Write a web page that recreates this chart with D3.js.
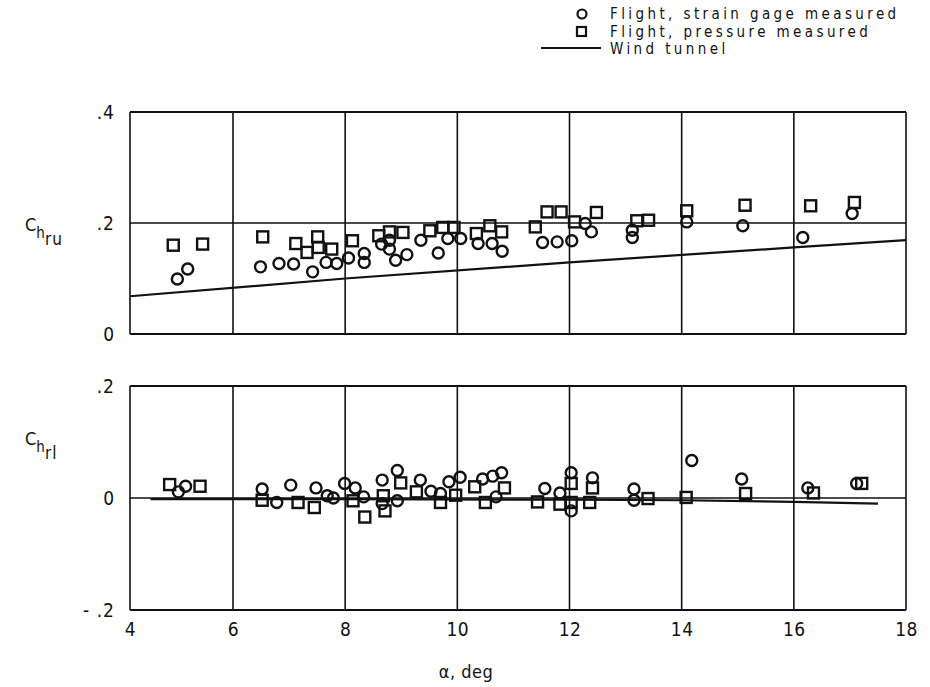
<!DOCTYPE html>
<html>
<head>
<meta charset="utf-8">
<script src="https://cdn.jsdelivr.net/npm/d3@7"></script>
<style>
  body { margin: 0; background: #fff; }
  svg { display: block; }
  text { font-family: "DejaVu Sans Condensed", "DejaVu Sans", sans-serif; fill: #111; }
</style>
</head>
<body>
<div id="drawArea"></div>
<script>
// angle of attack ticks
var alphaTicks = [4, 6, 8, 10, 12, 14, 16, 18];
var ruTicks = [0, 0.2, 0.4];
var rlTicks = [-0.2, 0, 0.2];

// upper rudder hinge moment, [alpha, Ch]
var ruStrain = [
  [4.92, 0.099], [5.12, 0.117], [6.49, 0.121], [6.82, 0.127], [7.08, 0.126], [7.42, 0.112],
  [7.66, 0.129], [7.85, 0.127], [8.06, 0.137], [8.34, 0.145], [8.34, 0.129], [8.65, 0.162],
  [8.79, 0.169], [8.79, 0.153], [8.90, 0.133], [9.10, 0.143], [9.35, 0.169], [9.66, 0.146],
  [9.83, 0.172], [10.06, 0.172], [10.37, 0.163], [10.62, 0.163], [10.80, 0.149], [11.52, 0.165],
  [11.78, 0.166], [12.04, 0.168], [12.28, 0.199], [12.39, 0.184], [13.12, 0.187], [13.12, 0.174],
  [14.09, 0.202], [15.09, 0.195], [16.16, 0.174], [17.04, 0.217]
];
var ruPressure = [
  [4.84, 0.160], [5.41, 0.162], [6.53, 0.175], [7.12, 0.163], [7.32, 0.147], [7.51, 0.175],
  [7.52, 0.156], [7.76, 0.153], [8.13, 0.168], [8.60, 0.177], [8.79, 0.184], [9.03, 0.183],
  [9.51, 0.186], [9.74, 0.192], [9.94, 0.192], [10.34, 0.181], [10.58, 0.195], [10.79, 0.184],
  [11.39, 0.193], [11.60, 0.220], [11.85, 0.220], [12.09, 0.202], [12.48, 0.219], [13.20, 0.204],
  [13.41, 0.205], [14.09, 0.222], [15.13, 0.232], [16.30, 0.231], [17.08, 0.237]
];
var ruTunnel = [[4, 0.068], [8, 0.100], [12, 0.129], [16, 0.156], [18, 0.169]];

// lower rudder hinge moment, [alpha, Ch]
var rlStrain = [
  [4.94, 0.011], [5.08, 0.021], [6.52, 0.016], [6.78, -0.008], [7.03, 0.023], [7.48, 0.018],
  [7.68, 0.004], [7.79, 0.000], [7.99, 0.026], [8.18, 0.018], [8.33, 0.002], [8.66, 0.032],
  [8.66, -0.010], [8.93, 0.049], [8.93, -0.005], [9.34, 0.032], [9.53, 0.012], [9.70, 0.008],
  [9.85, 0.029], [10.05, 0.037], [10.45, 0.034], [10.63, 0.039], [10.79, 0.045], [10.69, 0.002],
  [11.56, 0.017], [11.83, 0.009], [12.03, 0.045], [12.03, -0.023], [12.41, 0.036], [13.15, 0.016],
  [13.15, -0.004], [14.18, 0.067], [15.07, 0.034], [16.25, 0.018], [17.12, 0.026]
];
var rlPressure = [
  [4.77, 0.024], [5.36, 0.021], [6.52, -0.004], [7.16, -0.008], [7.45, -0.017], [8.14, -0.005],
  [8.35, -0.034], [8.71, -0.023], [8.68, 0.004], [8.99, 0.027], [9.27, 0.011], [9.70, -0.008],
  [9.97, 0.005], [10.31, 0.020], [10.50, -0.008], [10.84, 0.018], [11.43, -0.007], [11.83, -0.011],
  [12.03, 0.026], [12.03, -0.008], [12.41, 0.018], [12.36, -0.008], [13.40, -0.001], [14.08, 0.001],
  [15.14, 0.008], [16.35, 0.009], [17.21, 0.026]
];
var rlTunnel = [[4.4, -0.002], [8, -0.002], [12, -0.003], [14, -0.004], [16, -0.007], [17.5, -0.010]];

var svg = d3.select('#drawArea')
    .append('svg')
    .attr('width', 930)
    .attr('height', 687);

// the scanned axis is a little short between 4 and 6
var x = d3.scaleLinear().domain([4, 6, 18]).range([130, 233, 906]);

function tickText (d) {
    if (d == 0) return '0';
    var s = d3.format('.1f')(Math.abs(d)).replace(/^0/, '');
    return d < 0 ? '- ' + s : s;
}

function panel (y, ticks, gridY, strain, pressure, tunnel) {
    var g = svg.append('g');
    var y0 = y.range()[0], y1 = y.range()[1];

    // vertical grid
    g.selectAll('.vgrid')
        .data(alphaTicks)
        .enter()
        .append('line')
        .attr('x1', function (d) { return x(d); })
        .attr('x2', function (d) { return x(d); })
        .attr('y1', y0)
        .attr('y2', y1)
        .attr('stroke', '#111')
        .attr('stroke-width', 1.6);

    // border + horizontal grid
    g.selectAll('.hgrid')
        .data(ticks)
        .enter()
        .append('line')
        .attr('x1', x(4))
        .attr('x2', x(18))
        .attr('y1', function (d) { return y(d); })
        .attr('y2', function (d) { return y(d); })
        .attr('stroke', '#111')
        .attr('stroke-width', function (d) { return d == gridY ? 1.4 : 1.8; });

    // y tick labels
    var ax = g.append('g')
        .attr('transform', 'translate(' + (x(4) - 12) + ',0)')
        .call(d3.axisLeft(y).tickValues(ticks).tickSize(0).tickFormat(tickText));
    ax.select('.domain').remove();
    ax.selectAll('text')
        .style('font-size', '19px')
        .style('letter-spacing', '1px')
        .style('font-family', '"DejaVu Sans Condensed", "DejaVu Sans", sans-serif');

    // wind tunnel
    g.append('path')
        .datum(tunnel)
        .attr('fill', 'none')
        .attr('stroke', '#111')
        .attr('stroke-width', 2.2)
        .attr('d', d3.line()
            .x(function (d) { return x(d[0]); })
            .y(function (d) { return y(d[1]); }));

    g.selectAll('.strain')
        .data(strain)
        .enter()
        .append('circle')
        .attr('cx', function (d) { return x(d[0]); })
        .attr('cy', function (d) { return y(d[1]); })
        .attr('r', 5.5)
        .attr('fill', 'none')
        .attr('stroke', '#111')
        .attr('stroke-width', 2.4);

    g.selectAll('.pressure')
        .data(pressure)
        .enter()
        .append('rect')
        .attr('x', function (d) { return x(d[0]) - 5.5; })
        .attr('y', function (d) { return y(d[1]) - 5.5; })
        .attr('width', 11)
        .attr('height', 11)
        .attr('fill', 'none')
        .attr('stroke', '#111')
        .attr('stroke-width', 2.4);
}

var yRu = d3.scaleLinear().domain([0, 0.4]).range([334, 112]);
var yRl = d3.scaleLinear().domain([-0.2, 0.2]).range([610, 386]);

panel(yRu, ruTicks, 0.2, ruStrain, ruPressure, ruTunnel);
panel(yRl, rlTicks, 0, rlStrain, rlPressure, rlTunnel);

// x tick labels
var xa = svg.append('g')
    .attr('transform', 'translate(0,' + 619 + ')')
    .call(d3.axisBottom(x).tickValues(alphaTicks).tickSize(0).tickFormat(d3.format('d')));
xa.select('.domain').remove();
xa.selectAll('text')
    .style('font-size', '19px')
    .style('letter-spacing', '0.5px')
    .style('font-family', '"DejaVu Sans Condensed", "DejaVu Sans", sans-serif');

svg.append('text')
    .attr('x', 466)
    .attr('y', 678)
    .attr('text-anchor', 'middle')
    .style('font-size', '18px')
    .style('letter-spacing', '0.5px')
    .text('\u03b1, deg');

// y axis titles: C h ru / C h rl
function yTitle (cy, sub) {
    var t = svg.append('text')
        .attr('x', 25)
        .attr('y', cy)
        .style('font-size', '18px');
    t.append('tspan').text('C');
    t.append('tspan').attr('dy', 7).style('font-size', '15px').text('h');
    t.append('tspan').attr('dy', 7).style('font-size', '17px').style('letter-spacing', '1px').text(sub);
}
yTitle(231, 'ru');
yTitle(445, 'rl');

// legend
var legend = svg.append('g');
legend.append('circle')
    .attr('cx', 582).attr('cy', 14).attr('r', 4.5)
    .attr('fill', 'none').attr('stroke', '#111').attr('stroke-width', 2.2);
legend.append('rect')
    .attr('x', 577).attr('y', 27).attr('width', 9).attr('height', 9)
    .attr('fill', 'none').attr('stroke', '#111').attr('stroke-width', 2.2);
legend.append('line')
    .attr('x1', 541).attr('x2', 601).attr('y1', 48).attr('y2', 48)
    .attr('stroke', '#111').attr('stroke-width', 2);

var legendLabels = ['Flight, strain gage measured', 'Flight, pressure measured', 'Wind tunnel'];
legend.selectAll('.lab')
    .data(legendLabels)
    .enter()
    .append('text')
    .attr('x', 610)
    .attr('y', function (d, i) { return 19 + i * 17.5; })
    .style('font-size', '15px')
    .style('letter-spacing', '3.4px')
    .text(function (d) { return d; });
</script>
</body>
</html>
